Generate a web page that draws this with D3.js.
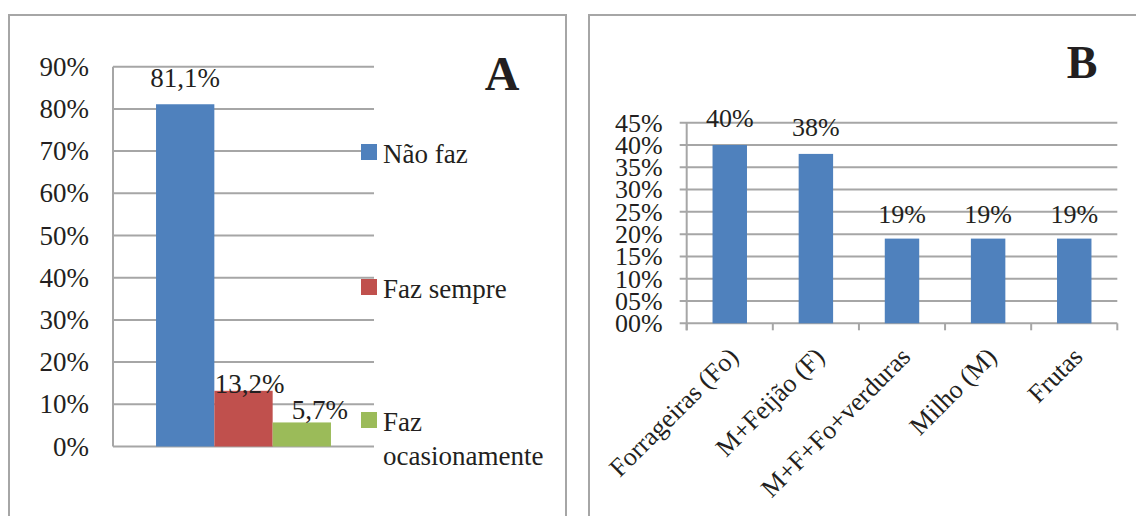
<!DOCTYPE html>
<html>
<head>
<meta charset="utf-8">
<script src="https://cdn.jsdelivr.net/npm/d3@7"></script>
<style>
  html, body { margin: 0; padding: 0; background: #fff; }
</style>
</head>
<body>
<svg id="chart" width="1136" height="516" font-family="'Liberation Serif', 'Times New Roman', 'DejaVu Serif', serif"></svg>
<script>
// ---- Panel A: practice frequency ----
const seriesA = ["Não faz", "Faz sempre", "Faz ocasionamente"];
const valuesA = [81.1, 13.2, 5.7];
const labelsA = ["81,1%", "13,2%", "5,7%"];
const colorsA = ["#4f81bd", "#c0504d", "#9bbb59"];
const tickValuesA = [0, 10, 20, 30, 40, 50, 60, 70, 80, 90];
const tickLabelsA = ["0%", "10%", "20%", "30%", "40%", "50%", "60%", "70%", "80%", "90%"];

// ---- Panel B: crops ----
const categoriesB = ["Forrageiras (Fo)", "M+Feijão (F)", "M+F+Fo+verduras", "Milho (M)", "Frutas"];
const valuesB = [40, 38, 19, 19, 19];
const labelsB = ["40%", "38%", "19%", "19%", "19%"];
const tickValuesB = [0, 5, 10, 15, 20, 25, 30, 35, 40, 45];
const tickLabelsB = ["00%", "05%", "10%", "15%", "20%", "25%", "30%", "35%", "40%", "45%"];

const grid = "#a6a6a6";
const ink = "#231f20";
const svg = d3.select("#chart");

// panel frames
svg.append("rect").attr("x", 9).attr("y", 15).attr("width", 557).attr("height", 520)
  .attr("fill", "none").attr("stroke", grid).attr("stroke-width", 2);
svg.append("rect").attr("x", 589).attr("y", 15).attr("width", 560).attr("height", 520)
  .attr("fill", "none").attr("stroke", grid).attr("stroke-width", 2);

// ================= Panel A =================
(function () {
  const left = 113, right = 374, top = 66.7, bottom = 446.5;
  const y = d3.scaleLinear().domain([0, 90]).range([bottom, top]);
  const xGroup = d3.scaleBand().domain(["g"]).range([left, right]).paddingInner(0).paddingOuter(0.246);
  const x = d3.scaleBand().domain(seriesA).range([xGroup("g"), xGroup("g") + xGroup.bandwidth()]);
  const g = svg.append("g").attr("fill", ink);

  // gridlines
  g.selectAll("line.grid").data(tickValuesA).join("line")
    .attr("x1", left).attr("x2", right)
    .attr("y1", d => y(d)).attr("y2", d => y(d))
    .attr("stroke", grid).attr("stroke-width", 2);
  g.append("line").attr("x1", left).attr("x2", left).attr("y1", y(90)).attr("y2", y(0))
    .attr("stroke", grid).attr("stroke-width", 2);

  // tick labels
  g.selectAll("text.tick").data(tickValuesA).join("text")
    .attr("x", left - 24).attr("y", d => y(d)).attr("dy", "0.34em")
    .attr("text-anchor", "end").attr("font-size", 27)
    .text((d, i) => tickLabelsA[i]);

  // bars
  g.selectAll("rect.bar").data(seriesA).join("rect")
    .attr("x", d => x(d)).attr("width", x.bandwidth())
    .attr("y", (d, i) => y(valuesA[i])).attr("height", (d, i) => y(0) - y(valuesA[i]))
    .attr("fill", (d, i) => colorsA[i]);

  // value labels (hand-placed offsets around each bar top)
  const nudge = [[0, -17], [6, 2], [18, -3]];
  g.selectAll("text.val").data(seriesA).join("text")
    .attr("x", (d, i) => x(d) + x.bandwidth() / 2 + nudge[i][0])
    .attr("y", (d, i) => y(valuesA[i]) + nudge[i][1])
    .attr("text-anchor", "middle").attr("font-size", 27)
    .text((d, i) => labelsA[i]);

  // legend
  const legY = [152, 287, 420];
  const leg = g.selectAll("g.leg").data(seriesA).join("g")
    .attr("transform", (d, i) => `translate(361,${legY[i]})`);
  leg.append("rect").attr("x", 0).attr("y", -8).attr("width", 16).attr("height", 16)
    .attr("fill", (d, i) => colorsA[i]);
  leg.each(function (d) {
    const words = d === "Faz ocasionamente" ? ["Faz", "ocasionamente"] : [d];
    const t = d3.select(this).append("text").attr("x", 22).attr("y", 11).attr("font-size", 27);
    words.forEach((w, k) => t.append("tspan").attr("x", 22).attr("dy", k === 0 ? 0 : 34).text(w));
  });

  svg.append("text").attr("x", 502).attr("y", 90).attr("text-anchor", "middle").attr("fill", ink)
    .attr("font-size", 48).attr("font-weight", "bold").text("A");
})();

// ================= Panel B =================
(function () {
  const left = 686.7, right = 1117.3, top = 122.7, bottom = 323.3;
  const y = d3.scaleLinear().domain([0, 45]).range([bottom, top]);
  const x = d3.scaleBand().domain(categoriesB).range([left, right]).paddingInner(0.6).paddingOuter(0.3);
  const g = svg.append("g").attr("fill", ink);

  // gridlines with small outward ticks
  g.selectAll("line.grid").data(tickValuesB).join("line")
    .attr("x1", left - 7).attr("x2", right)
    .attr("y1", d => y(d)).attr("y2", d => y(d))
    .attr("stroke", grid).attr("stroke-width", 2);
  g.append("line").attr("x1", left).attr("x2", left).attr("y1", y(45)).attr("y2", y(0) + 7)
    .attr("stroke", grid).attr("stroke-width", 2);

  // category boundary ticks on the x axis
  const step = (right - left) / categoriesB.length;
  const bounds = d3.range(categoriesB.length + 1).map(i => left + i * step);
  g.selectAll("line.xt").data(bounds).join("line")
    .attr("x1", d => d).attr("x2", d => d).attr("y1", y(0)).attr("y2", y(0) + 7)
    .attr("stroke", grid).attr("stroke-width", 2);

  // tick labels
  g.selectAll("text.tick").data(tickValuesB).join("text")
    .attr("x", left - 24).attr("y", d => y(d)).attr("dy", "0.34em")
    .attr("text-anchor", "end").attr("font-size", 26)
    .text((d, i) => tickLabelsB[i]);

  // bars
  g.selectAll("rect.bar").data(categoriesB).join("rect")
    .attr("x", d => x(d)).attr("width", x.bandwidth())
    .attr("y", (d, i) => y(valuesB[i])).attr("height", (d, i) => y(0) - y(valuesB[i]))
    .attr("fill", "#4f81bd");

  // value labels
  g.selectAll("text.val").data(categoriesB).join("text")
    .attr("x", d => x(d) + x.bandwidth() / 2)
    .attr("y", (d, i) => y(valuesB[i]) - (valuesB[i] > 30 ? 18 : 16))
    .attr("text-anchor", "middle").attr("font-size", 26)
    .text((d, i) => labelsB[i]);

  // rotated category labels
  g.selectAll("text.cat").data(categoriesB).join("text")
    .attr("transform", d => `translate(${x(d) + x.bandwidth() / 2 + 10},${y(0) + 35}) rotate(-45)`)
    .attr("text-anchor", "end").attr("font-size", 26)
    .text(d => d);

  svg.append("text").attr("x", 1082).attr("y", 78).attr("text-anchor", "middle").attr("fill", ink)
    .attr("font-size", 46).attr("font-weight", "bold").text("B");
})();
</script>
</body>
</html>
